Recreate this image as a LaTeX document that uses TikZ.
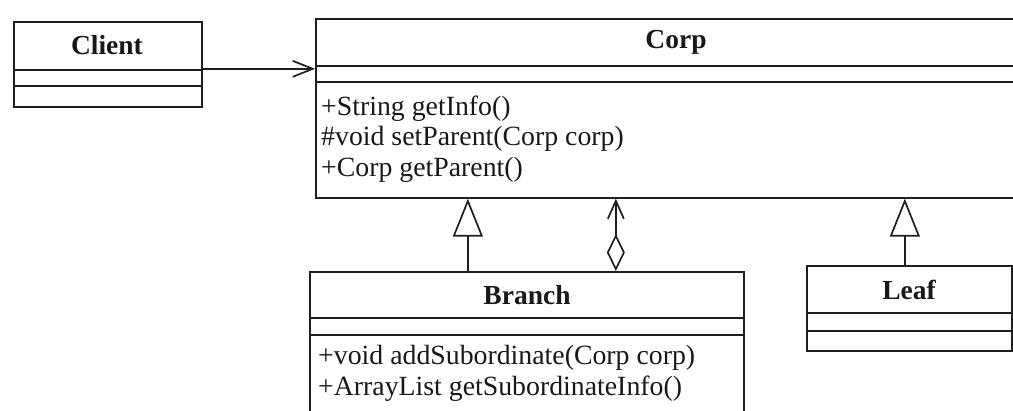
\documentclass[tikz,border=0pt]{standalone}
\usepackage{fontspec}
\setmainfont{Liberation Serif}
\usetikzlibrary{arrows.meta}
\tikzset{
  ink/.style={draw=black!88, line width=1.7pt},
  umlbox/.style={ink, inner sep=0pt, anchor=north west},
  cname/.style={font=\fontsize{27.5}{31}\selectfont\bfseries, inner sep=0pt, text=black!90},
  meth/.style={font=\fontsize{27.8}{31}\selectfont, inner sep=0pt, anchor=west, text=black!90},
  gen/.style={ink, -{Triangle[open,length=38pt,width=30pt]}},
  assoc/.style={ink, -{Straight Barb[length=20pt,width=16pt]}},
  agg/.style={ink, {Diamond[open,length=37pt,width=18pt]}-{Straight Barb[length=18pt,width=16pt]}}
}
\begin{document}
\begin{tikzpicture}[x=1pt,y=1pt]
\useasboundingbox (0,0) rectangle (1013,-411);
\clip (0,0) rectangle (1013,-411);
\fill[white] (0,0) rectangle (1013,-411);

% Client
\node[umlbox, minimum width=188pt, minimum height=85pt] (clientbox) at (13,-21) {};
\draw[ink] (13,-70) -- (201,-70);
\draw[ink] (13,-86) -- (201,-86);
\node[cname] (clientname) at (107,-45) {Client};

% Corp
\node[umlbox, minimum width=715pt, minimum height=179pt] (corpbox) at (315,-18) {};
\draw[ink] (315,-66) -- (1030,-66);
\draw[ink] (315,-82) -- (1030,-82);
\node[cname] (corpname) at (676,-42) {Corp};
\node[meth] (cm1) at (321,-109) {+String getInfo()};
\node[meth] (cm2) at (321,-139) {\#void setParent(Corp corp)};
\node[meth] (cm3) at (321,-170) {+Corp getParent()};

% Branch
\node[umlbox, minimum width=434pt, minimum height=170pt] (branchbox) at (309,-271) {};
\draw[ink] (309,-318) -- (743,-318);
\draw[ink] (309,-335) -- (743,-335);
\node[cname] (branchname) at (527,-295) {Branch};
\node[meth] (bm1) at (318,-358) {+void addSubordinate(Corp corp)};
\node[meth] (bm2) at (318,-389) {+ArrayList getSubordinateInfo()};

% Leaf
\node[umlbox, minimum width=205pt, minimum height=85pt] (leafbox) at (806,-265) {};
\draw[ink] (806,-313) -- (1011,-313);
\draw[ink] (806,-331) -- (1011,-331);
\node[cname] (leafname) at (909,-290) {Leaf};

% Connectors
\draw[assoc] ([yshift=-4.5pt]clientbox.east) -- ([yshift=-4.5pt]clientbox.east -| corpbox.west);
\draw[gen] ([xshift=-59pt]branchbox.north) -- ([xshift=-59pt]branchbox.north |- corpbox.south);
\draw[agg] ([xshift=89pt]branchbox.north) -- ([xshift=89pt]branchbox.north |- corpbox.south);
\draw[gen] ([xshift=-4.5pt]leafbox.north) -- ([xshift=-4.5pt]leafbox.north |- corpbox.south);
\end{tikzpicture}
\end{document}
